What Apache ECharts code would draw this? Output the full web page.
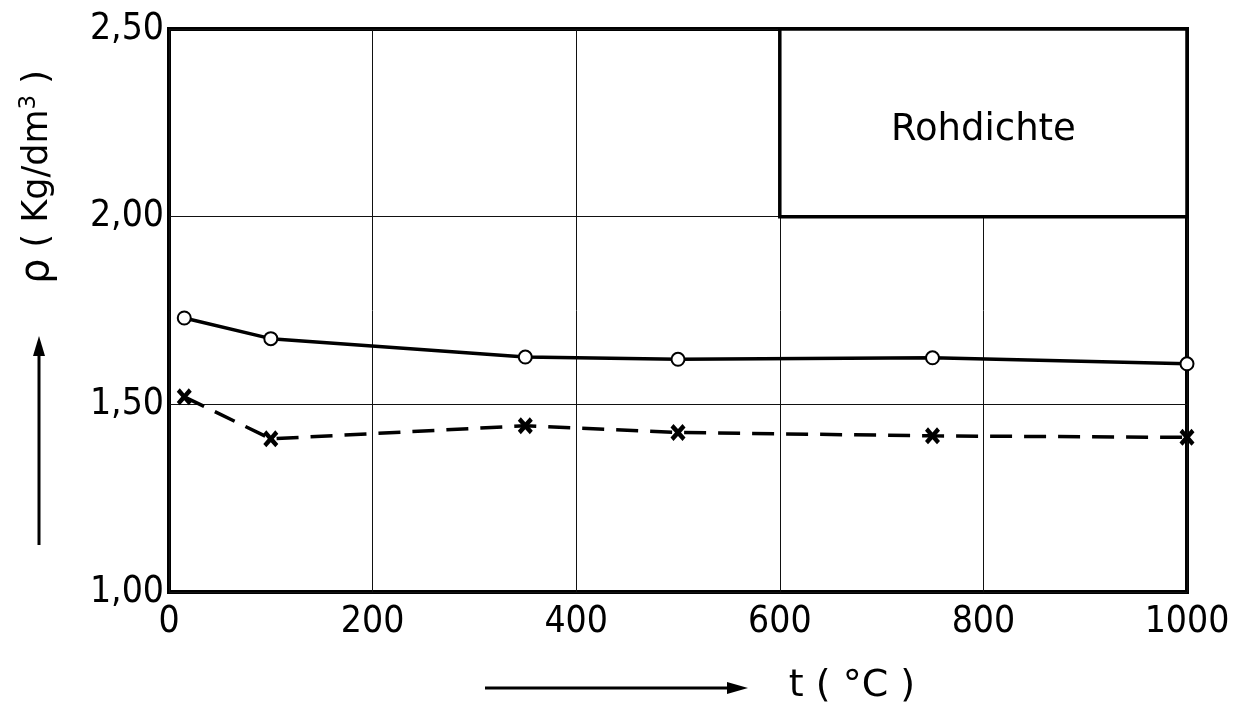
<!DOCTYPE html>
<html>
<head>
<meta charset="utf-8">
<script src="https://cdn.jsdelivr.net/npm/echarts@6/dist/echarts.min.js"></script>
<style>html,body{margin:0;padding:0;background:#fff}#c{width:1233px;height:709px}</style>
</head>
<body>
<div id="c"></div>
<script>
// ---- data ----
const temps = [15, 100, 350, 500, 750, 1000];
const densitySolid = [1.73, 1.675, 1.626, 1.62, 1.624, 1.608];
const densityDashed = [1.52, 1.408, 1.443, 1.425, 1.416, 1.412];
const xTickLabels = ['0', '200', '400', '600', '800', '1000'];
const yTickLabels = ['1,00', '1,50', '2,00', '2,50'];
const boxLabel = 'Rohdichte';
const xName = 't ( °C )';

const FONT = "'DejaVu Sans Condensed', 'DejaVu Sans', sans-serif";
const FONT2 = "'DejaVu Sans', sans-serif";
const chart = echarts.init(document.getElementById('c'));
const xSymbol = 'path://M0,2 L2,0 L5,3 L8,0 L10,2 L7,5 L10,8 L8,10 L5,7 L2,10 L0,8 L3,5 Z';

chart.setOption({
  animation: false,
  backgroundColor: '#fff',
  grid: { left: 169, right: 46, top: 29, bottom: 117, show: true, borderColor: '#000', borderWidth: 4, backgroundColor: 'transparent' },
  xAxis: {
    type: 'value', min: 0, max: 1000, interval: 200,
    axisLine: { show: false }, axisTick: { show: false },
    splitLine: { show: true, lineStyle: { color: '#111', width: 1 } },
    axisLabel: { color: '#000', fontFamily: FONT, fontSize: 37, margin: 12,
      formatter: (v) => xTickLabels[Math.round(v / 200)] }
  },
  yAxis: {
    type: 'value', min: 1, max: 2.5, interval: 0.5,
    axisLine: { show: false }, axisTick: { show: false },
    splitLine: { show: true, lineStyle: { color: '#111', width: 1 } },
    axisLabel: { color: '#000', fontFamily: FONT, fontSize: 37, margin: 5,
      formatter: (v) => yTickLabels[Math.round((v - 1) / 0.5)] }
  },
  series: [
    {
      type: 'line',
      data: temps.map((t, i) => [t, densitySolid[i]]),
      symbol: 'emptyCircle', symbolSize: 13,
      lineStyle: { color: '#000', width: 3.5 },
      itemStyle: { color: '#000', borderColor: '#000', borderWidth: 3 },
      z: 3,
      markArea: {
        silent: true,
        itemStyle: { color: '#fff', borderColor: '#000', borderWidth: 3.5 },
        label: { show: true, position: 'inside', color: '#000', fontFamily: FONT2, fontSize: 37, offset: [0, 8] },
        data: [[{ name: boxLabel, coord: [600, 2.5] }, { coord: [1000, 2.0] }]]
      }
    },
    {
      type: 'line',
      data: temps.map((t, i) => [t, densityDashed[i]]),
      symbol: xSymbol, symbolSize: [15, 17],
      lineStyle: { color: '#000', width: 3.5, type: [22, 12] },
      itemStyle: { color: '#000' },
      z: 3
    }
  ],
  graphic: [
    { type: 'text', x: 38, y: 177, rotation: Math.PI / 2,
      style: { text: '{r|ρ} ( Kg/dm{s|3} )', fill: '#000', fontSize: 35, fontFamily: FONT2, align: 'center', verticalAlign: 'middle',
        rich: { r: { fontSize: 40, fontFamily: FONT2, fill: '#000' }, s: { fontSize: 23, fontFamily: FONT2, verticalAlign: 'top', padding: [0, 0, 15, 0], fill: '#000' } } } },
    { type: 'line', shape: { x1: 39, y1: 545, x2: 39, y2: 350 }, style: { stroke: '#000', lineWidth: 3 } },
    { type: 'polygon', shape: { points: [[39, 336], [33, 356], [45, 356]] }, style: { fill: '#000' } },
    { type: 'line', shape: { x1: 485, y1: 688, x2: 730, y2: 688 }, style: { stroke: '#000', lineWidth: 3 } },
    { type: 'polygon', shape: { points: [[748, 688], [727, 682], [727, 694]] }, style: { fill: '#000' } },
    { type: 'text', x: 852, y: 686,
      style: { text: xName, fill: '#000', fontSize: 38, fontFamily: FONT2, align: 'center', verticalAlign: 'middle' } }
  ]
});
</script>
</body>
</html>
